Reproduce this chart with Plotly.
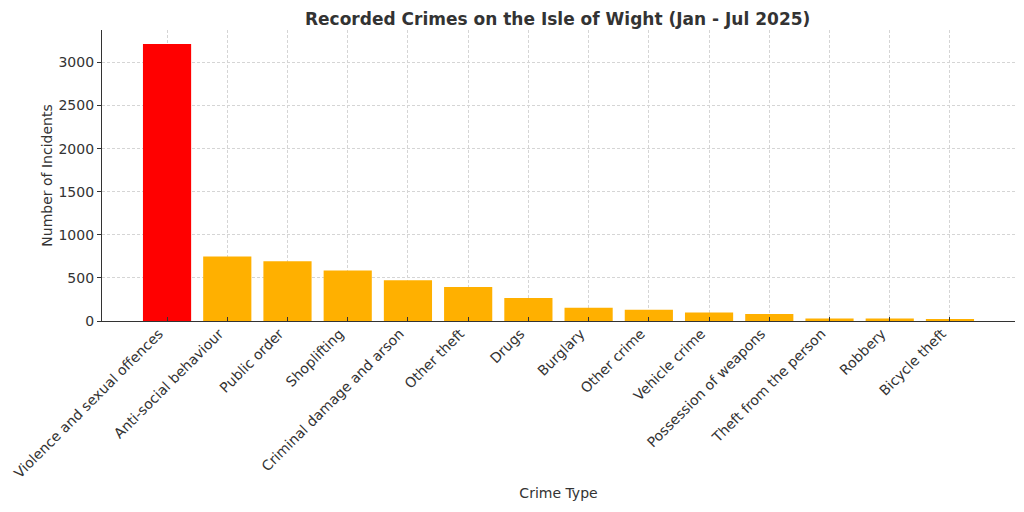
import plotly.graph_objects as go

crime_types = [
    "Violence and sexual offences", "Anti-social behaviour", "Public order",
    "Shoplifting", "Criminal damage and arson", "Other theft", "Drugs",
    "Burglary", "Other crime", "Vehicle crime", "Possession of weapons",
    "Theft from the person", "Robbery", "Bicycle theft",
]
incidents = [3215, 747, 693, 585, 474, 393, 266, 154, 130, 100, 81, 30, 30, 23]
bar_colors = ["#FF0000"] + ["#FFB000"] * (len(crime_types) - 1)

grey = "#333333"

fig = go.Figure()
fig.add_trace(go.Bar(
    x=list(range(len(crime_types))), y=incidents,
    marker=dict(color=bar_colors, line=dict(width=0)),
    width=0.8,
))

# page body adds an 8px offset, so the figure is a bit smaller than the window
fig.update_layout(
    width=1016, height=504,
    margin=dict(l=94, r=9, t=22, b=191, autoexpand=False),
    paper_bgcolor="white", plot_bgcolor="white",
    font=dict(family="DejaVu Sans", size=14, color=grey),
    showlegend=False,
    title=dict(text="<b>Recorded Crimes on the Isle of Wight (Jan - Jul 2025)</b>",
               x=0.541, xanchor="center", y=0.979, yanchor="middle",
               font=dict(size=17, color=grey)),
)
fig.update_xaxes(
    tickmode="array", tickvals=list(range(len(crime_types))), ticktext=crime_types,
    tickangle=-45, range=[-1.08, 14.08], automargin=False,
    ticklabelshift=-8, ticklabelstandoff=-2,
    showgrid=True, gridcolor="#d5d5d5", griddash="3px,2px", gridwidth=0.8,
    showline=True, linecolor=grey, linewidth=1.2,
    ticks="inside", ticklen=4, tickcolor=grey,
    title=dict(text="Crime Type", standoff=8, font=dict(size=14)),
    zeroline=False,
)
fig.update_yaxes(
    range=[0, 3376], tickvals=[0, 500, 1000, 1500, 2000, 2500, 3000],
    automargin=False,
    showgrid=True, gridcolor="#d5d5d5", griddash="3px,2px", gridwidth=0.8,
    showline=True, linecolor=grey, linewidth=1.2,
    ticks="outside", ticklen=4, tickcolor=grey,
    title=dict(text="Number of Incidents", standoff=2, font=dict(size=14)),
    zeroline=False,
)

fig.write_html("out.html")
